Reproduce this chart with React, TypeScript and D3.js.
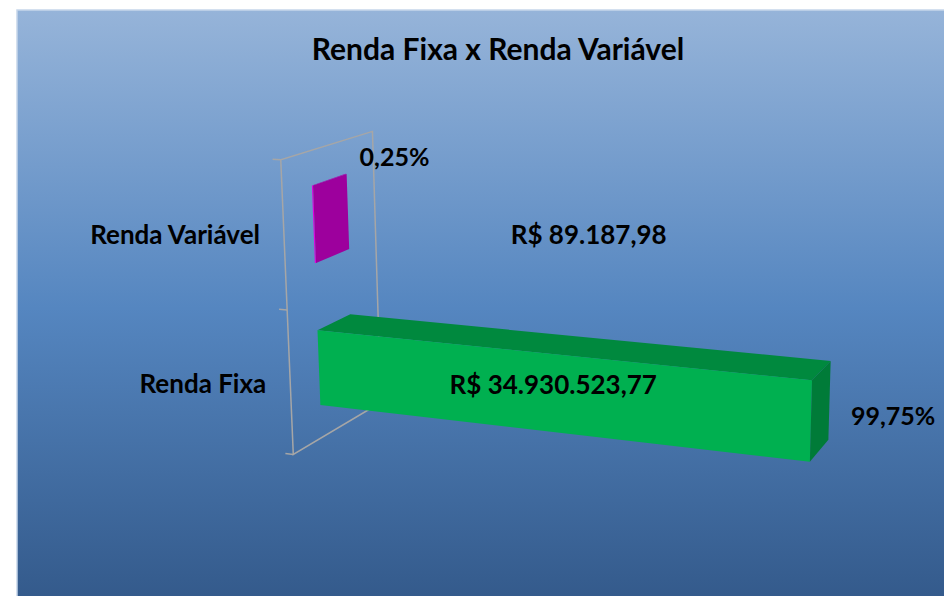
import React from 'react';
import * as d3 from 'd3';

const title = 'Renda Fixa x Renda Variável';
const categories = ['Renda Variável', 'Renda Fixa'];
const values = [89187.98, 34930523.77];
const valueLabels = ['R$ 89.187,98', 'R$ 34.930.523,77'];
const percentLabels = ['0,25%', '99,75%'];
const barColors = ['#e000e0', '#00b050'];

const width = 944;
const height = 596;

// simple perspective camera for the 3d look
const yaw = (20.5 * Math.PI) / 180;
const pitch = (-14 * Math.PI) / 180;
const focal = 1900;
const target = [285, 145, 145];
const cx = 611;
const cy = 305;

const project = ([x, y, z]: number[]) => {
  const px = x - target[0], py = y - target[1], pz = z - target[2];
  const x1 = px * Math.cos(yaw) + pz * Math.sin(yaw);
  const z1 = -px * Math.sin(yaw) + pz * Math.cos(yaw);
  const y2 = py * Math.cos(pitch) - z1 * Math.sin(pitch);
  const z2 = py * Math.sin(pitch) + z1 * Math.cos(pitch);
  const k = focal / (focal + z2);
  return [cx + x1 * k, cy - y2 * k];
};

const wallH = 298;
const wallD = 190;
const barZ0 = 58;
const barZ1 = 128;

const xScale = d3.scaleLinear().domain([0, 40000000]).range([0, 590]);
const yScale = d3
  .scaleBand<string>()
  .domain([...categories].reverse()) // Y goes up, so first category sits on top
  .range([0, wallH])
  .paddingInner(0.47)
  .paddingOuter(0.235);

const line = d3.line<number[]>();
const poly = (pts: number[][]) => line(pts.map(project)) + 'Z';

const font = 'Lato, "Open Sans", sans-serif';

export default function App() {
  const bars = categories.map((c, i) => {
    const x0 = 0;
    const x1 = xScale(values[i]);
    const y0 = yScale(c)!;
    const y1 = y0 + yScale.bandwidth();
    const base = d3.color(barColors[i])!;
    return {
      c,
      x1,
      yMid: (y0 + y1) / 2,
      top: poly([[x0, y1, barZ0], [x1, y1, barZ0], [x1, y1, barZ1], [x0, y1, barZ1]]),
      front: poly([[x0, y0, barZ0], [x1, y0, barZ0], [x1, y1, barZ0], [x0, y1, barZ0]]),
      end: poly([[x1, y0, barZ0], [x1, y0, barZ1], [x1, y1, barZ1], [x1, y1, barZ0]]),
      frontC: base.formatHex(),
      topC: base.darker(0.7).formatHex(),
      endC: base.darker(1).formatHex(),
      topBack: project([x1, y1, barZ1]),
      frontMid: project([x1 / 2, (y0 + y1) / 2, barZ0]),
      endMid: project([x1, (y0 + y1) / 2, barZ0]),
    };
  });

  const wall = poly([[0, 0, 0], [0, wallH, 0], [0, wallH, wallD], [0, 0, wallD]]);
  const ticks = [0, wallH / 2, wallH].map((t) => line([project([0, t, 0]), project([-9, t, 0])]));

  const varBar = bars[0];
  const fixBar = bars[1];
  const varLabelPos = project([xScale(20000000), varBar.yMid, barZ0]);

  return (
    <svg width={width} height={height} style={{ position: 'absolute', left: 0, top: 0 }}>
      <defs>
        <linearGradient id="bg" x1="0" y1="0" x2="0" y2="1">
          <stop offset="0" stopColor="#96b4d9" />
          <stop offset="0.5" stopColor="#5586c0" />
          <stop offset="1" stopColor="#33598a" />
        </linearGradient>
      </defs>
      <rect x={17} y={10} width={width} height={height} fill="url(#bg)" stroke="#c6d6ea" strokeWidth={1.5} />
      <text x={498} y={60} textAnchor="middle" fontFamily={font} fontWeight="bold" fontSize={30} fill="#000">
        {title}
      </text>

      <path d={wall} fill="none" stroke="#a6a6a6" strokeWidth={1.5} />
      {ticks.map((d, k) => (
        <path key={k} d={d!} stroke="#a6a6a6" strokeWidth={1.5} />
      ))}

      {bars.map((b) => (
        <g key={b.c}>
          <path d={b.top} fill={b.topC} />
          <path d={b.front} fill={b.frontC} />
          <path d={b.end} fill={b.endC} />
        </g>
      ))}

      {categories.map((c, i) => {
        const [px, py] = project([0, yScale(c)! + yScale.bandwidth() / 2, 0]);
        return (
          <text key={c} x={px - 24} y={py + (i === 0 ? -2 : 0)} textAnchor="end" dominantBaseline="central"
            fontFamily={font} fontWeight="bold" fontSize={26} fill="#000">
            {c}
          </text>
        );
      })}

      <g fontFamily={font} fontWeight="bold" fontSize={26} fill="#000">
        <text x={fixBar.frontMid[0]} y={fixBar.frontMid[1] - 9} textAnchor="middle" dominantBaseline="central">
          {valueLabels[1]}
        </text>
        <text x={fixBar.endMid[0] + 40} y={fixBar.endMid[1] - 6} dominantBaseline="central" fontSize={25}>
          {percentLabels[1]}
        </text>
        <text x={varLabelPos[0]} y={varLabelPos[1] - 12} textAnchor="middle" dominantBaseline="central">
          {valueLabels[0]}
        </text>
        <text x={varBar.topBack[0] + 13} y={varBar.topBack[1] - 18} dominantBaseline="central" fontSize={25}>
          {percentLabels[0]}
        </text>
      </g>
    </svg>
  );
}
